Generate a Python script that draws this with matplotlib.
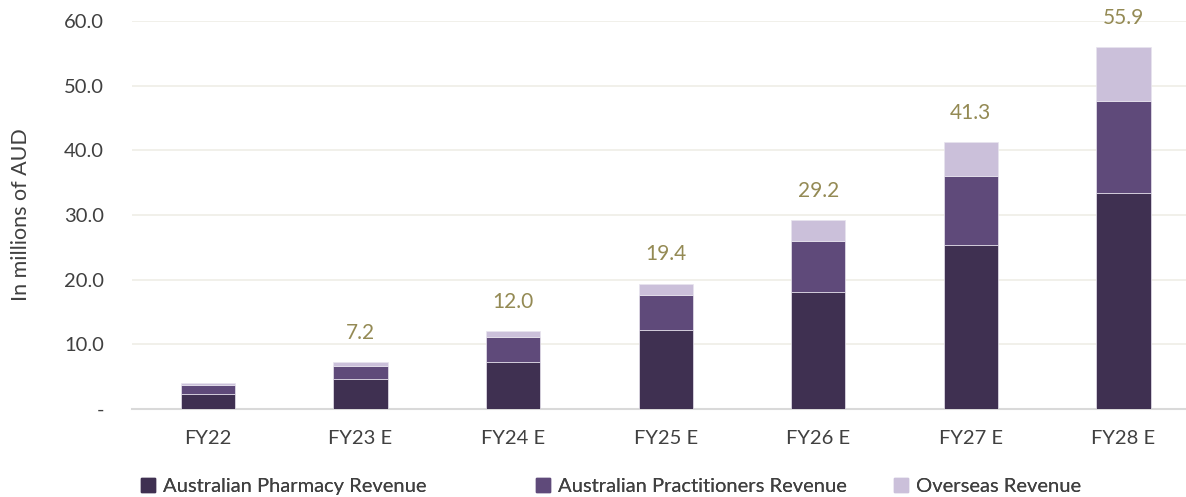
import matplotlib.pyplot as plt
from matplotlib.patches import Patch
from matplotlib.ticker import FixedLocator, FixedFormatter

years = ["FY22", "FY23 E", "FY24 E", "FY25 E", "FY26 E", "FY27 E", "FY28 E"]
pharmacy = [2.4, 4.6, 7.2, 12.2, 18.1, 25.4, 33.4]
practitioners = [1.3, 2.1, 3.9, 5.5, 7.8, 10.6, 14.2]
overseas = [0.4, 0.5, 0.9, 1.7, 3.3, 5.3, 8.3]
totals = [None, 7.2, 12.0, 19.4, 29.2, 41.3, 55.9]

c_pharm = "#3F3051"
c_pract = "#5F4A7A"
c_over = "#CBC0DA"
c_label = "#948A54"

plt.rcParams['font.family'] = ['Lato', 'DejaVu Sans']

fig = plt.figure(figsize=(11.86, 4.97), dpi=100)
ax = fig.add_axes([0.111, 0.177, 0.889, 0.781])

x = list(range(len(years)))
w = 0.355
ax.bar(x, pharmacy, w, color=c_pharm, edgecolor="#E8E4EE", linewidth=0.5, zorder=3)
base2 = pharmacy
ax.bar(x, practitioners, w, bottom=base2, color=c_pract, edgecolor="#E8E4EE", linewidth=0.5, zorder=3)
base3 = [a + b for a, b in zip(pharmacy, practitioners)]
ax.bar(x, overseas, w, bottom=base3, color=c_over, edgecolor="#E8E4EE", linewidth=0.5, zorder=3)

for i, t in enumerate(totals):
    if t is None:
        continue
    top = base3[i] + overseas[i]
    ax.annotate(f"{t:.1f}", (i, top), xytext=(0, 21), textcoords="offset points",
                ha="center", va="center", fontsize=15, color=c_label)

ax.set_xlim(-0.5, 6.41)
ax.set_ylim(0, 60)
ticks = [0, 10, 20, 30, 40, 50, 60]
ax.yaxis.set_major_locator(FixedLocator(ticks))
ax.yaxis.set_major_formatter(FixedFormatter(["-"] + [f"{v:.1f}" for v in ticks[1:]]))
ax.set_xticks(x)
ax.set_xticklabels(years)
ax.tick_params(axis="both", length=0, labelsize=14.5, colors="#404040")
ax.tick_params(axis="y", pad=20)
ax.tick_params(axis="x", pad=15)
ax.grid(axis="y", color="#EFEEE6", linewidth=1.2, zorder=0)
for s in ["top", "right", "left"]:
    ax.spines[s].set_visible(False)
ax.spines["bottom"].set_color("#D9D9D9")
ax.spines["bottom"].set_linewidth(1.5)
ax.set_ylabel("In millions of AUD", fontsize=15.5, color="#404040", labelpad=24)

# legend entries placed individually (Excel uses fixed-width slots)
handles = [Patch(color=c_pharm), Patch(color=c_pract), Patch(color=c_over)]
labels = ["Australian Pharmacy Revenue", "Australian Practitioners Revenue", "Overseas Revenue"]
slots = [0.119, 0.452, 0.754]
for h, lab, sx in zip(handles, labels, slots):
    lg = fig.legend([h], [lab], loc="lower left", bbox_to_anchor=(sx, 0.004),
                    frameon=False, fontsize=14.5, handlelength=0.7, handleheight=0.7,
                    handletextpad=0.4, borderpad=0, borderaxespad=0, labelcolor="#404040")
    fig.add_artist(lg)

fig.savefig("out.png", dpi=100)
